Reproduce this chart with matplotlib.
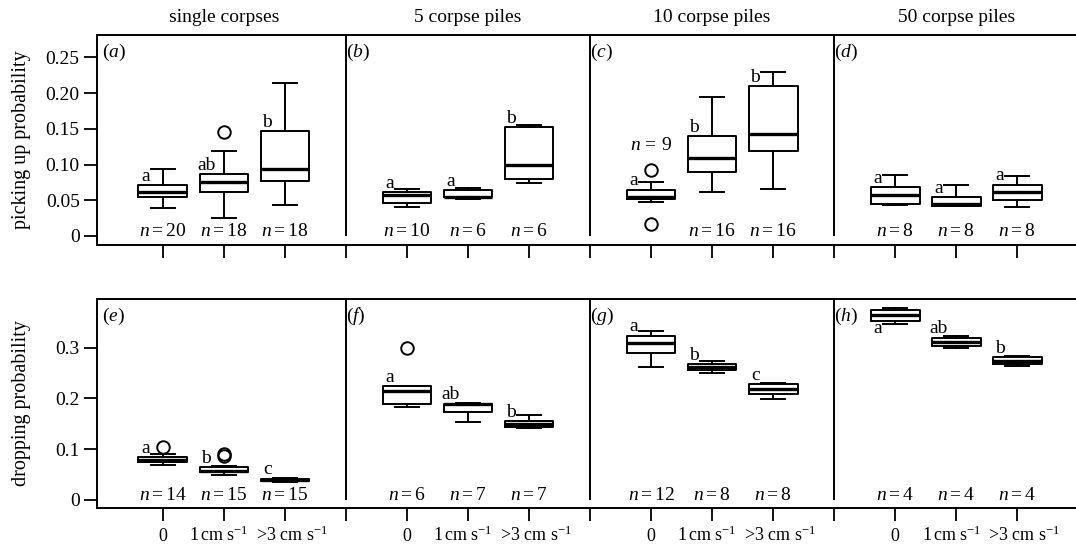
import numpy as np
import matplotlib
matplotlib.use('Agg')
import matplotlib.pyplot as plt
from matplotlib.transforms import offset_copy, blended_transform_factory

plt.rcParams['font.family'] = ['Liberation Serif', 'DejaVu Serif']
plt.rcParams['mathtext.fontset'] = 'custom'
plt.rcParams['mathtext.rm'] = 'Liberation Serif'
plt.rcParams['mathtext.it'] = 'Liberation Serif:italic'

# panel titles / axis texts
groups = ['single corpses', '5 corpse piles', '10 corpse piles', '50 corpse piles']
flow_labels = ['0', '1$\\,$cm s$^{-1}$', '>3 cm s$^{-1}$']
panel_top = ['a', 'b', 'c', 'd']
panel_bot = ['e', 'f', 'g', 'h']

# picking up probability (a)-(d), three flow speeds per panel
pick_lo  = [0.039, 0.025, 0.043, 0.041, 0.052, 0.074, 0.048, 0.061, 0.066, 0.043, 0.042, 0.040]
pick_q1  = [0.054, 0.061, 0.077, 0.046, 0.054, 0.080, 0.052, 0.090, 0.119, 0.045, 0.042, 0.051]
pick_med = [0.062, 0.076, 0.094, 0.058, 0.055, 0.099, 0.054, 0.109, 0.143, 0.057, 0.045, 0.062]
pick_q3  = [0.071, 0.087, 0.147, 0.061, 0.064, 0.152, 0.065, 0.140, 0.210, 0.069, 0.055, 0.072]
pick_hi  = [0.094, 0.119, 0.214, 0.066, 0.067, 0.155, 0.075, 0.194, 0.230, 0.086, 0.071, 0.084]
pick_out = [[], [0.145], [], [], [], [], [0.093, 0.017], [], [], [], [], []]
pick_n   = [20, 18, 18, 10, 6, 6, 9, 16, 16, 8, 8, 8]
pick_let = ['a', 'ab', 'b', 'a', 'a', 'b', 'a', 'b', 'b', 'a', 'a', 'a']

# dropping probability (e)-(h)
drop_lo  = [0.068, 0.049, 0.035, 0.184, 0.153, 0.142, 0.261, 0.250, 0.199, 0.346, 0.299, 0.264]
drop_q1  = [0.074, 0.055, 0.037, 0.190, 0.173, 0.144, 0.290, 0.257, 0.209, 0.353, 0.303, 0.268]
drop_med = [0.079, 0.058, 0.040, 0.215, 0.189, 0.150, 0.310, 0.261, 0.219, 0.364, 0.311, 0.274]
drop_q3  = [0.084, 0.064, 0.042, 0.224, 0.190, 0.155, 0.324, 0.267, 0.228, 0.374, 0.320, 0.281]
drop_hi  = [0.090, 0.067, 0.044, 0.224, 0.192, 0.167, 0.333, 0.274, 0.230, 0.379, 0.323, 0.283]
drop_out = [[0.104], [0.091, 0.086], [], [0.299], [], [], [], [], [], [], [], []]
drop_n   = [14, 15, 15, 6, 7, 7, 12, 8, 8, 4, 4, 4]
drop_let = ['a', 'b', 'c', 'a', 'ab', 'b', 'a', 'b', 'c', 'a', 'ab', 'b']

positions = [1, 2, 3, 5, 6, 7, 9, 10, 11, 13, 14, 15]
dividers = [4, 8, 12, 16]

FS = 14
W, H = 1076, 546
fig = plt.figure(figsize=(W / 100, H / 100), dpi=100)

x0, x1 = -0.08, 16.08
unit = 61.02
ax_top = fig.add_axes([97 / W, 1 - 245 / H, (x1 - x0) * unit / W, 210 / H])
ax_bot = fig.add_axes([97 / W, 1 - 508 / H, (x1 - x0) * unit / W, 209 / H])


def draw_row(ax, lo, q1, med, q3, hi, out, ns, lets, ylim, yticks, yticklabels,
             panels, show_xlabels):
    stats = []
    for i in range(len(positions)):
        stats.append(dict(whislo=lo[i], q1=q1[i], med=med[i], q3=q3[i],
                          whishi=hi[i], fliers=out[i]))
    ax.bxp(stats, positions=positions, widths=0.8, showfliers=True,
           manage_ticks=False,
           boxprops=dict(color='black', lw=1.4),
           whiskerprops=dict(color='black', lw=1.4, ls='-'),
           capprops=dict(color='black', lw=1.4),
           medianprops=dict(color='black', lw=2.4),
           flierprops=dict(marker='o', mfc='none', mec='black', ms=9, mew=1.4))
    ax.set_xlim(x0, x1)
    ax.set_ylim(*ylim)
    ax.vlines(dividers, 0, ylim[1], colors='black', lw=1.4)
    for s in ax.spines.values():
        s.set_linewidth(1.4)
    ax.set_yticks(yticks)
    ax.set_yticklabels(yticklabels, fontsize=FS)
    ax.tick_params(axis='y', length=9.5, width=1.3, pad=3)
    ax.set_xticks(list(range(1, 17)))
    ax.set_xticklabels([])
    ax.tick_params(axis='x', length=9, width=1.3)

    if show_xlabels:
        tr = offset_copy(blended_transform_factory(ax.transData, ax.transAxes),
                         fig=fig, x=0, y=-24, units='points')
        shifts = [0, -0.08, 0.11]
        for p in positions:
            j = (p - 1) % 4
            ax.text(p + shifts[j], 0, flow_labels[j], fontsize=13, ha='center',
                    va='baseline', transform=tr, clip_on=False)

    yr = ylim[1] - ylim[0]
    for i, p in enumerate(positions):
        # group letters above the box, or below it when no room is left
        if (ylim[1] - q3[i]) / yr > 0.08:
            tr = offset_copy(ax.transData, fig=fig, x=0, y=3.0, units='points')
            ax.text(p - 0.29, q3[i], lets[i], fontsize=FS, ha='center',
                    va='baseline', transform=tr)
        else:
            tr = offset_copy(ax.transData, fig=fig, x=0, y=-9.0, units='points')
            ax.text(p - 0.29, q1[i], lets[i], fontsize=FS, ha='center',
                    va='baseline', transform=tr)
        # sample sizes; move up if a low outlier sits in the way
        low = [f for f in out[i] if f / yr < 0.07]
        if low:
            tr = offset_copy(ax.transData, fig=fig, x=0, y=14, units='points')
            ax.text(p, max(out[i]), '$n\\,{=}\\,%d$' % ns[i], fontsize=FS,
                    ha='center', va='baseline', transform=tr)
        else:
            ax.text(p, 0, '$n = %d$' % ns[i], fontsize=FS, ha='center',
                    va='baseline')

    for k, lab in enumerate(panels):
        ax.annotate('($%s$)' % lab, xy=(4 * k, 1), xycoords=('data', 'axes fraction'),
                    xytext=(0, -5), textcoords='offset points',
                    fontsize=FS, ha='left', va='top')


draw_row(ax_top, pick_lo, pick_q1, pick_med, pick_q3, pick_hi, pick_out, pick_n,
         pick_let, (-0.0126, 0.2812), [0, 0.05, 0.10, 0.15, 0.20, 0.25],
         ['0', '0.05', '0.10', '0.15', '0.20', '0.25'], panel_top, False)
draw_row(ax_bot, drop_lo, drop_q1, drop_med, drop_q3, drop_hi, drop_out, drop_n,
         drop_let, (-0.0158, 0.3959), [0, 0.1, 0.2, 0.3],
         ['0', '0.1', '0.2', '0.3'], panel_bot, True)

for k, g in enumerate(groups):
    ax_top.annotate(g, xy=(4 * k + 2, 1), xycoords=('data', 'axes fraction'),
                    xytext=(0, 9.5), textcoords='offset points',
                    fontsize=FS, ha='center', va='baseline')

fig.text(22 / W, 1 - 140 / H, 'picking up probability', rotation=90,
         fontsize=14.5, ha='center', va='center')
fig.text(22 / W, 1 - 403.5 / H, 'dropping probability', rotation=90,
         fontsize=14.5, ha='center', va='center')

fig.savefig('out.png', dpi=100)
